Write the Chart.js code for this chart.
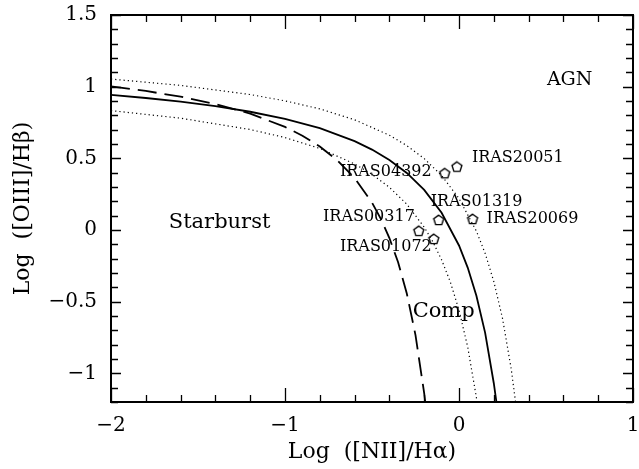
<!DOCTYPE html>
<html>
<head>
<meta charset="utf-8">
<script src="https://cdn.jsdelivr.net/npm/chart.js@4"></script>
<style>
  html, body { margin: 0; padding: 0; background: #fff; }
  #box { width: 639px; height: 469px; }
</style>
</head>
<body>
<div id="box"><canvas id="bpt"></canvas></div>
<script>
// demarcation curves
const kewleyX = [-2, -1.8, -1.6, -1.4, -1.2, -1.0, -0.8, -0.6, -0.5, -0.4, -0.3, -0.2, -0.1, 0, 0.05, 0.1, 0.15, 0.2, 0.215];
const kewleyY = [0.943, 0.921, 0.895, 0.864, 0.825, 0.775, 0.710, 0.620, 0.561, 0.489, 0.398, 0.280, 0.120, -0.108, -0.262, -0.459, -0.716, -1.069, -1.2];

const kauffX = [-2, -1.8, -1.6, -1.4, -1.2, -1.0, -0.9, -0.8, -0.7, -0.6, -0.5, -0.45, -0.4, -0.35, -0.3, -0.25, -0.2, -0.194];
const kauffY = [1.002, 0.970, 0.930, 0.879, 0.812, 0.719, 0.658, 0.582, 0.487, 0.362, 0.191, 0.080, -0.056, -0.225, -0.443, -0.733, -1.14, -1.2];

const upperX = [-2, -1.6, -1.2, -1.0, -0.8, -0.6, -0.4, -0.3, -0.2, -0.1, 0, 0.1, 0.15, 0.2, 0.25, 0.3, 0.325];
const upperY = [1.053, 1.009, 0.945, 0.901, 0.845, 0.769, 0.661, 0.589, 0.498, 0.380, 0.220, -0.008, -0.162, -0.359, -0.616, -0.969, -1.2];

const lowerX = [-2, -1.6, -1.2, -1.0, -0.8, -0.6, -0.5, -0.4, -0.3, -0.2, -0.15, -0.1, -0.05, 0, 0.05, 0.1, 0.104];
const lowerY = [0.833, 0.780, 0.701, 0.645, 0.569, 0.461, 0.389, 0.298, 0.180, 0.020, -0.083, -0.208, -0.362, -0.559, -0.816, -1.169, -1.2];

// galaxies
const names = ['IRAS20051', 'IRAS04392', 'IRAS01319', 'IRAS20069', 'IRAS00317', 'IRAS01072'];
const nii   = [-0.012, -0.082, -0.117, 0.078, -0.231, -0.145];
const oiii  = [0.442, 0.396, 0.070, 0.077, -0.006, -0.062];

// region names
const regions = ['Starburst', 'AGN', 'Comp'];
const regionX = [-1.376, 0.636, -0.088];
const regionY = [0.052, 1.045, -0.570];

const xTicks = [-2, -1, 0, 1];
const yTicks = [-1, -0.5, 0, 0.5, 1, 1.5];

const FONT = "'DejaVu Serif', serif";

function pts(xs, ys) {
    return xs.map((x, i) => ({ x: x, y: ys[i] }));
}

function fmt(v) {
    return String(v).replace('-', '\u2212');
}

// open pentagon marker
const penta = document.createElement('canvas');
penta.width = 14;
penta.height = 14;
(function () {
    const c = penta.getContext('2d');
    c.strokeStyle = '#000';
    c.lineWidth = 1.4;
    c.lineJoin = 'miter';
    c.beginPath();
    for (let k = 0; k < 5; k++) {
        const a = -Math.PI / 2 + k * 2 * Math.PI / 5;
        const px = 7 + 5.2 * Math.cos(a);
        const py = 7.4 + 5.2 * Math.sin(a);
        if (k === 0) c.moveTo(px, py); else c.lineTo(px, py);
    }
    c.closePath();
    c.stroke();
})();

// label offsets from each marker, px
const labelOpts = [
    { dx: 15, dy: -9, align: 'left' },
    { dx: -13, dy: -1, align: 'right' },
    { dx: -8, dy: -18, align: 'left' },
    { dx: 14, dy: 0, align: 'left' },
    { dx: -4, dy: -14, align: 'right' },
    { dx: -2, dy: 8, align: 'right' },
];
const regionSize = [21, 19, 21];

const framePlugin = {
    id: 'frame',
    afterDatasetsDraw(chart) {
        const c = chart.ctx;
        const a = chart.chartArea;
        const xs = chart.scales.x;
        const ys = chart.scales.y;
        c.save();
        c.strokeStyle = '#000';
        c.lineWidth = 1.3;
        c.beginPath();
        // x ticks, bottom and top
        for (let i = 0; i <= 15; i++) {
            const v = -2 + i * 0.2;
            const px = Math.round(xs.getPixelForValue(v)) + 0.5;
            const len = (Math.abs(v - Math.round(v)) < 1e-6) ? 14 : 7;
            c.moveTo(px, a.bottom); c.lineTo(px, a.bottom - len);
            c.moveTo(px, a.top); c.lineTo(px, a.top + len);
        }
        // y ticks, left and right
        for (let i = 0; i <= 27; i++) {
            const v = -1.2 + i * 0.1;
            const py = Math.round(ys.getPixelForValue(v)) + 0.5;
            const len = (Math.abs(v * 2 - Math.round(v * 2)) < 1e-6) ? 10 : 7;
            c.moveTo(a.left, py); c.lineTo(a.left + len, py);
            c.moveTo(a.right, py); c.lineTo(a.right - len, py);
        }
        c.stroke();
        c.lineWidth = 2;
        c.strokeRect(a.left, a.top, a.right - a.left, a.bottom - a.top);

        c.fillStyle = '#000';
        c.textBaseline = 'middle';
        c.font = '16px ' + FONT;
        names.forEach((n, i) => {
            const o = labelOpts[i];
            c.textAlign = o.align;
            c.fillText(n, xs.getPixelForValue(nii[i]) + o.dx, ys.getPixelForValue(oiii[i]) + o.dy);
        });
        c.textAlign = 'center';
        regions.forEach((r, i) => {
            c.font = regionSize[i] + 'px ' + FONT;
            c.fillText(r, xs.getPixelForValue(regionX[i]), ys.getPixelForValue(regionY[i]));
        });
        c.restore();
    }
};

const lineDs = (xs, ys, dash, width) => ({
    data: pts(xs, ys),
    showLine: true,
    borderColor: '#000',
    borderWidth: width,
    borderDash: dash,
    pointRadius: 0,
    fill: false,
    tension: 0,
});

new Chart(document.getElementById('bpt'), {
    type: 'scatter',
    data: {
        datasets: [
            lineDs(kewleyX, kewleyY, [], 1.8),
            lineDs(kauffX, kauffY, [19, 8], 1.8),
            lineDs(upperX, upperY, [1.2, 3], 1.2),
            lineDs(lowerX, lowerY, [1.2, 3], 1.2),
            {
                data: pts(nii, oiii),
                showLine: false,
                pointStyle: penta,
                pointRadius: 5,
            },
        ],
    },
    options: {
        animation: false,
        responsive: true,
        maintainAspectRatio: false,
        layout: { padding: { left: 0, right: 4, top: 15, bottom: 0 } },
        plugins: { legend: { display: false }, tooltip: { enabled: false } },
        scales: {
            x: {
                type: 'linear',
                min: -2,
                max: 1,
                grid: { display: false, drawTicks: false },
                border: { display: false },
                afterBuildTicks: (s) => { s.ticks = xTicks.map(v => ({ value: v })); },
                afterFit: (s) => { s.height = 67; s.paddingLeft = 0; s.paddingRight = 0; },
                ticks: {
                    color: '#000',
                    padding: 12,
                    maxRotation: 0,
                    font: { family: FONT, size: 20 },
                    callback: (v) => fmt(v),
                },
                title: {
                    display: true,
                    text: 'Log  ([NII]/H\u03b1)',
                    color: '#000',
                    font: { family: FONT, size: 22 },
                    padding: { top: 0, bottom: 4 },
                },
            },
            y: {
                type: 'linear',
                min: -1.2,
                max: 1.5,
                grid: { display: false, drawTicks: false },
                border: { display: false },
                afterBuildTicks: (s) => { s.ticks = yTicks.map(v => ({ value: v })); },
                afterFit: (s) => { s.width = 111; s.paddingTop = 0; s.paddingBottom = 0; },
                ticks: {
                    color: '#000',
                    padding: 14,
                    font: { family: FONT, size: 20 },
                    callback: (v) => fmt(v),
                },
                title: {
                    display: true,
                    text: 'Log  ([OIII]/H\u03b2)',
                    color: '#000',
                    font: { family: FONT, size: 22 },
                    padding: { top: 10, bottom: 0 },
                },
            },
        },
    },
    plugins: [framePlugin],
});
</script>
</body>
</html>
